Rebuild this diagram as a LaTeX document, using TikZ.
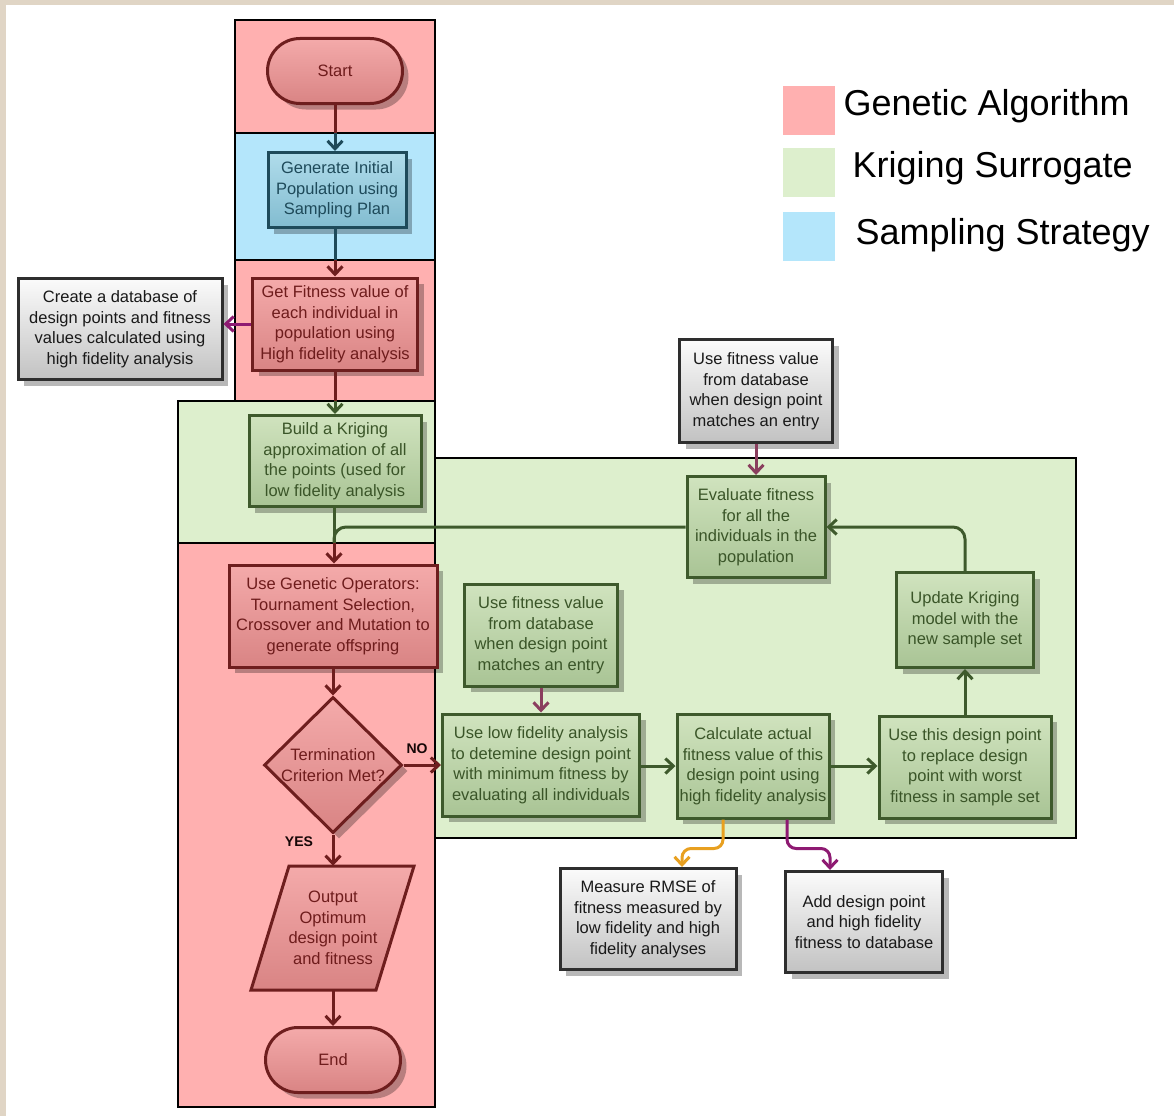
\documentclass[tikz,border=0pt]{standalone}
\usepackage{fontspec}
\setmainfont{Liberation Sans}
\usetikzlibrary{shapes.misc,shapes.geometric,shadows,arrows.meta}

% palette
\definecolor{beige}{HTML}{E0D5C5}
\definecolor{lanepink}{HTML}{FFB0B0}
\definecolor{laneblue}{HTML}{B4E6FB}
\definecolor{lanegreen}{HTML}{DDEFCD}
\definecolor{gaTop}{HTML}{F4AAAA}
\definecolor{gaBot}{HTML}{D98484}
\definecolor{gaLine}{HTML}{6E1E1E}
\definecolor{gaText}{HTML}{6E1C1C}
\definecolor{krTop}{HTML}{D0E3BE}
\definecolor{krBot}{HTML}{A9C495}
\definecolor{krLine}{HTML}{3E5A2C}
\definecolor{krText}{HTML}{3A5528}
\definecolor{ssTop}{HTML}{B0DCEB}
\definecolor{ssBot}{HTML}{82BCD0}
\definecolor{ssLine}{HTML}{1E4A5A}
\definecolor{ssText}{HTML}{1E4A5A}
\definecolor{dbTop}{HTML}{FBFBFB}
\definecolor{dbBot}{HTML}{C2C2C2}
\definecolor{dbLine}{HTML}{2E2E2E}
\definecolor{mauve}{HTML}{8A3E5E}
\definecolor{plum}{HTML}{8E1A72}
\definecolor{amber}{HTML}{E8A020}

\tikzset{
  every node/.style={font=\fontsize{16.5}{20.5}\selectfont},
  lane/.style={draw=black, line width=2.5pt},
  shadowed/.style={drop shadow={shadow xshift=6pt, shadow yshift=-6pt, opacity=0.28, fill=black}},
  boxbase/.style={rectangle, line width=3pt, align=center, inner sep=1pt, shadowed},
  gabox/.style={boxbase, draw=gaLine, top color=gaTop, bottom color=gaBot, text=gaText},
  krbox/.style={boxbase, draw=krLine, top color=krTop, bottom color=krBot, text=krText},
  ssbox/.style={boxbase, draw=ssLine, top color=ssTop, bottom color=ssBot, text=ssText},
  dbbox/.style={boxbase, draw=dbLine, top color=dbTop, bottom color=dbBot, text=black!90},
  terminal/.style={gabox, rounded rectangle, minimum width=137pt, minimum height=65pt},
  decision/.style={gabox, diamond, minimum width=138pt, minimum height=136pt, inner sep=0pt},
  conn/.style={line width=3pt, -{Straight Barb[length=8pt,width=15pt]}},
  link/.style={line width=3pt},
  answer/.style={font=\bfseries\fontsize{14}{16}\selectfont, text=black!80!gaLine},
  legendsq/.style={rectangle, minimum width=52pt, minimum height=49pt, inner sep=0pt},
  legendtxt/.style={anchor=west, font=\fontsize{36}{40}\selectfont, text=black},
}

\begin{document}
\begin{tikzpicture}[x=1pt, y=-1pt]
  % page frame
  \useasboundingbox (0,0) rectangle (1174,1116);
  \fill[white] (0,0) rectangle (1174,1116);
  \fill[beige] (0,0) rectangle (1174,5);
  \fill[beige] (0,0) rectangle (6,1116);

  % swim lanes
  \draw[lane, fill=lanepink]  (235,20)  rectangle (435,133);
  \draw[lane, fill=laneblue]  (235,133) rectangle (435,260);
  \draw[lane, fill=lanepink]  (235,260) rectangle (435,401);
  \draw[lane, fill=lanegreen] (178,401) rectangle (435,543);
  \draw[lane, fill=lanegreen] (435,458) rectangle (1076,838);
  \draw[lane, fill=lanepink]  (178,543) rectangle (435,1107);

  % lane boundaries crossed by connectors
  \coordinate (b1) at (335,133);
  \coordinate (b2) at (335,260);
  \coordinate (b3) at (335,401);
  \coordinate (b4) at (334,543);

  % legend
  \node[legendsq, fill=lanepink]  (lgga) at (809,110) {};
  \node[legendsq, fill=lanegreen] (lgkr) at (809,172) {};
  \node[legendsq, fill=laneblue]  (lgss) at (809,236) {};
  \node[legendtxt] (lgtga) at (840,106) {Genetic Algorithm};
  \node[legendtxt] (lgtkr) at (849,168) {Kriging Surrogate};
  \node[legendtxt] (lgtss) at (852,235) {Sampling Strategy};

  % main column
  \node[terminal] (start) at (335,71) {Start};
  \node[ssbox, minimum width=138pt, minimum height=75pt] (gen) at (337,190)
    {Generate Initial\\Population using\\Sampling Plan};
  \node[gabox, minimum width=165pt, minimum height=92pt] (fit) at (335,324)
    {Get Fitness value of\\each individual in\\population using\\High fidelity analysis};
  \node[dbbox, minimum width=204pt, minimum height=101pt] (db) at (120,329)
    {Create a database of\\design points and fitness\\values calculated using\\high fidelity analysis};
  \node[krbox, minimum width=172pt, minimum height=91pt] (krig) at (335,461)
    {Build a Kriging\\approximation of all\\the points (used for\\low fidelity analysis};
  \node[gabox, minimum width=208pt, minimum height=102pt] (ops) at (333,616)
    {Use Genetic Operators:\\Tournament Selection,\\Crossover and Mutation to\\generate offspring};
  \node[decision] (dec) at (333,765) {};
  \node[align=center, text=gaText] (dectext) at (dec.center) {Termination\\Criterion Met?};

  % output parallelogram, drawn around its text node
  \coordinate (outc) at (333,928);
  \fill[black, opacity=0.28, shift={(6,6)}]
    ([shift={(-82,62)}]outc) -- ([shift={(43,62)}]outc) -- ([shift={(81,-62)}]outc)
    -- ([shift={(-44,-62)}]outc) -- cycle;
  \draw[line width=3pt, draw=gaLine, top color=gaTop, bottom color=gaBot]
    ([shift={(-82,62)}]outc) -- ([shift={(43,62)}]outc) -- ([shift={(81,-62)}]outc)
    -- ([shift={(-44,-62)}]outc) -- cycle;
  \node[align=center, text=gaText, minimum width=125pt, minimum height=124pt, inner sep=0pt]
    (out) at (outc) {Output\\Optimum\\design point\\and fitness};
  \node[terminal] (end) at (333,1060) {End};

  % surrogate loop
  \node[dbbox, minimum width=153pt, minimum height=103pt] (dbtop) at (756,391)
    {Use fitness value\\from database\\when design point\\matches an entry};
  \node[krbox, minimum width=138pt, minimum height=101pt] (eval) at (756,527)
    {Evaluate fitness\\for all the\\individuals in the\\population};
  \node[krbox, minimum width=153pt, minimum height=102pt] (dbin) at (541,635)
    {Use fitness value\\from database\\when design point\\matches an entry};
  \node[krbox, minimum width=197pt, minimum height=102pt] (low) at (541,765)
    {Use low fidelity analysis\\to detemine design point\\with minimum fitness by\\evaluating all individuals};
  \node[krbox, minimum width=152pt, minimum height=104pt] (calc) at (753,766)
    {Calculate actual\\fitness value of this\\design point using\\high fidelity analysis};
  \node[krbox, minimum width=172pt, minimum height=102pt] (repl) at (965,767)
    {Use this design point\\to replace design\\point with worst\\fitness in sample set};
  \node[krbox, minimum width=137pt, minimum height=95pt] (upd) at (965,620)
    {Update Kriging\\model with the\\new sample set};
  \node[dbbox, minimum width=176pt, minimum height=101pt] (rmse) at (648,919)
    {Measure RMSE of\\fitness measured by\\low fidelity and high\\fidelity analyses};
  \node[dbbox, minimum width=157pt, minimum height=101pt] (add) at (864,922)
    {Add design point\\and high fidelity\\fitness to database};

  % connectors of the main column
  \draw[link, gaLine] (start.south) -- (b1);
  \draw[conn, ssLine] (b1) -- (b1 |- gen.north);
  \draw[link, ssLine] (gen.south -| b2) -- (b2);
  \draw[conn, gaLine] (b2) -- (b2 |- fit.north);
  \draw[conn, plum] (fit.west) -- (db.east |- fit.west);
  \draw[link, gaLine] (fit.south) -- (b3);
  \draw[conn, krLine] (b3) -- (b3 |- krig.north);
  \draw[link, krLine, rounded corners=12pt] (eval.west) -| (b4);
  \draw[link, krLine] (krig.south -| b4) -- (b4);
  \draw[conn, gaLine] (b4) -- (b4 |- ops.north);
  \draw[conn, gaLine] (ops.south) -- (dec.north);
  \draw[conn, gaLine] (dec.east) -- (low.west |- dec.east);
  \draw[conn, gaLine] (dec.south) -- (out.north);
  \draw[conn, gaLine] (out.south) -- (end.north);
  \node[answer] (no) at (417,749) {NO};
  \node[answer] (yes) at (299,842) {YES};

  % connectors of the surrogate loop
  \draw[conn, mauve] (dbtop.south) -- (eval.north);
  \draw[conn, mauve] (dbin.south) -- (low.north);
  \draw[conn, krLine] (low.east |- calc.west) -- (calc.west);
  \draw[conn, krLine] (calc.east) -- (repl.west |- calc.east);
  \draw[conn, krLine] (repl.north) -- (upd.south);
  \draw[conn, krLine, rounded corners=12pt] (upd.north) |- (eval.east);
  \draw[conn, amber, rounded corners=9pt]
    ([xshift=-30pt]calc.south) -- ++(0,29) -| ([xshift=34pt]rmse.north);
  \draw[conn, plum, rounded corners=9pt]
    ([xshift=34pt]calc.south) -- ++(0,29) -| ([xshift=-34pt]add.north);
\end{tikzpicture}
\end{document}
